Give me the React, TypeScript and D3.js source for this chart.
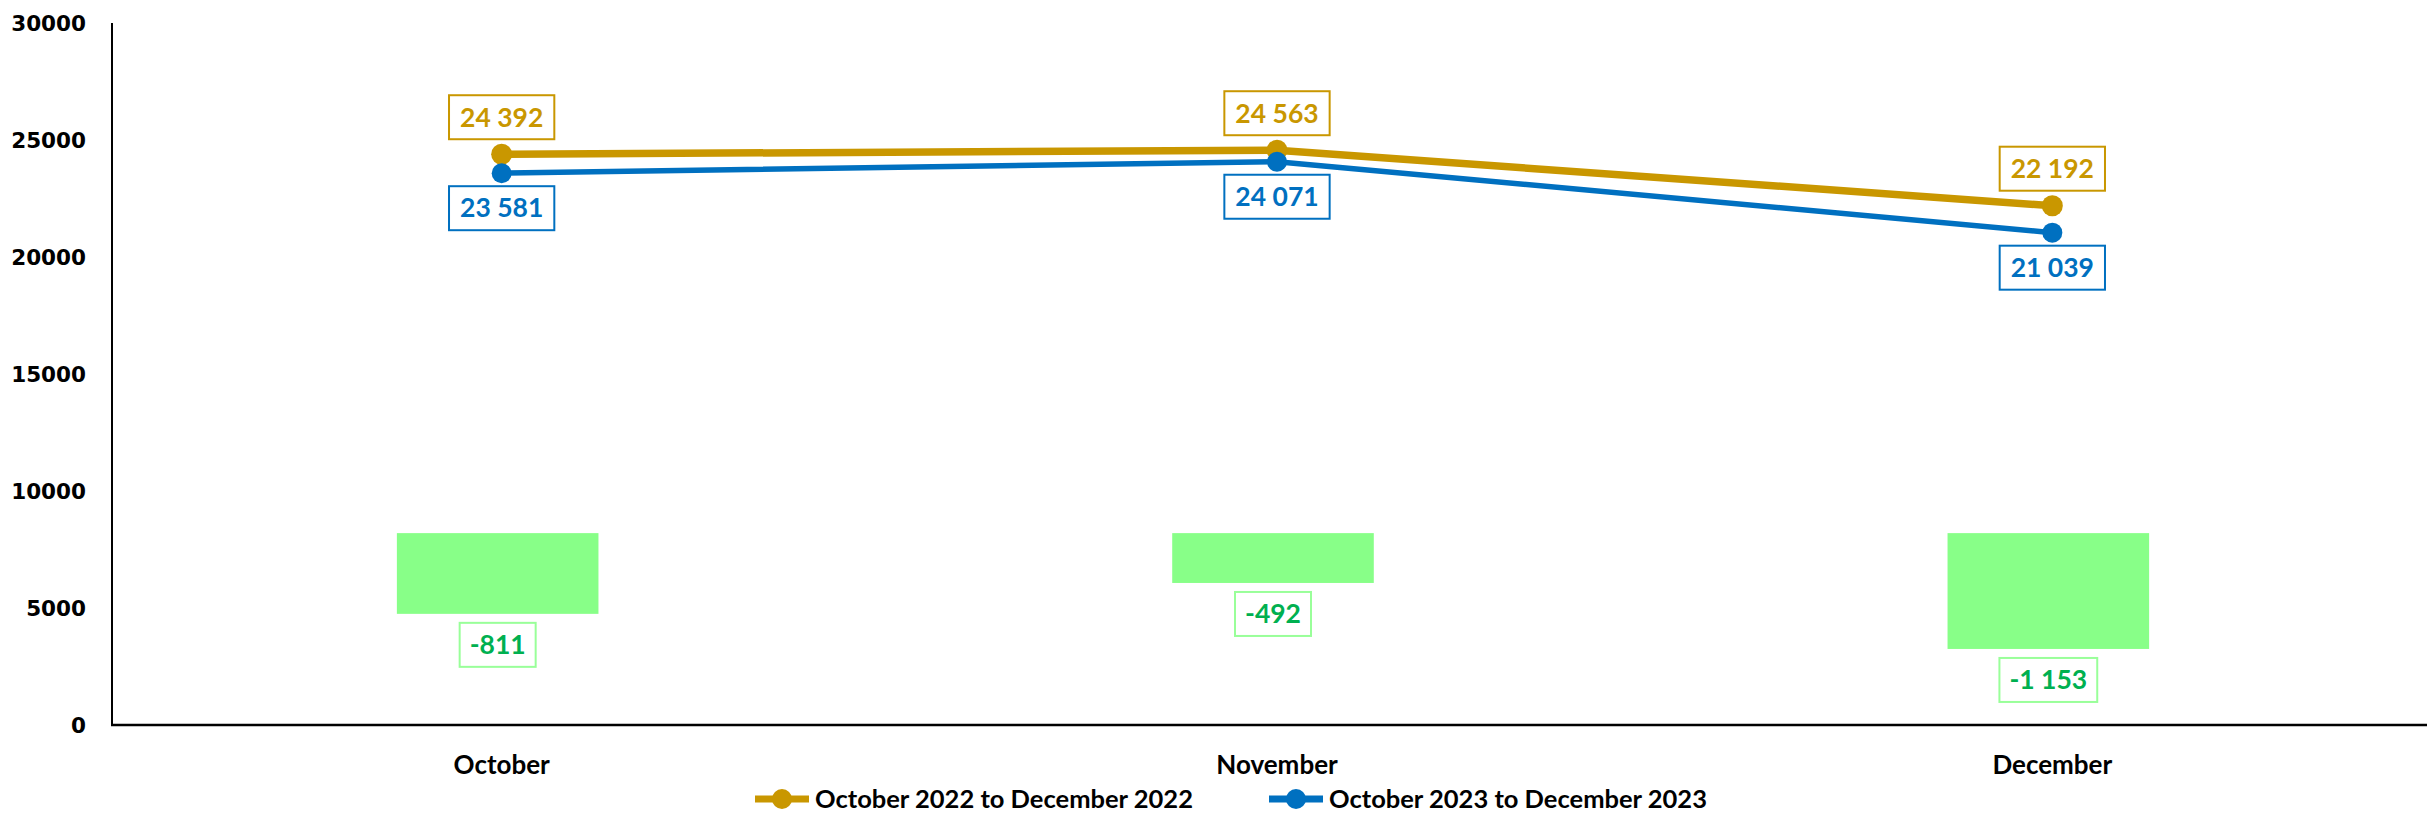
import React, { useEffect, useRef } from 'react';
import * as d3 from 'd3';

const categories = ['October', 'November', 'December'];
const series2022 = [24392, 24563, 22192];
const series2023 = [23581, 24071, 21039];
const diffs = [-811, -492, -1153];
const barTop = [8200, 8200, 8200];
const barBottom = [4750, 6070, 3250];
const yTicks = [0, 5000, 10000, 15000, 20000, 25000, 30000];
const legendLabels = ['October 2022 to December 2022', 'October 2023 to December 2023'];

const GOLD = '#C99700';
const BLUE = '#0070C0';
const BAR = '#88FF88';
const GREEN_TEXT = '#00B050';
const GREEN_BORDER = '#99FF99';

const W = 2427;
const H = 815;

const locale = d3.formatLocale({ decimal: '.', thousands: ' ', grouping: [3], currency: ['', ''], minus: '-' });
const fmt = locale.format(',');

const App: React.FC = () => {
  const svgRef = useRef<SVGSVGElement>(null);

  useEffect(() => {
    if (!svgRef.current) return;
    const svg = d3.select(svgRef.current);
    svg.selectAll('*').remove();

    const left = 112;
    const x = d3.scaleBand<string>().domain(categories).range([114, 2440]).padding(0);
    const y = d3.scaleLinear().domain([0, 30000]).range([725, 23]);
    const cx = (c: string) => (x(c) as number) + x.bandwidth() / 2;

    // y axis labels
    svg.append('g')
      .selectAll('text')
      .data(yTicks)
      .enter().append('text')
      .attr('x', 86)
      .attr('y', d => y(d))
      .attr('dy', '0.36em')
      .attr('text-anchor', 'end')
      .attr('font-family', 'DejaVu Sans')
      .attr('font-weight', 'bold')
      .attr('font-size', '21.5px')
      .attr('fill', '#000')
      .text(d => String(d));

    // bars (floating)
    const bw = x.bandwidth() * 0.26;
    svg.append('g')
      .selectAll('rect')
      .data(categories)
      .enter().append('rect')
      .attr('x', (d) => cx(d) - bw / 2 - 4)
      .attr('y', (_, i) => y(barTop[i]))
      .attr('width', bw)
      .attr('height', (_, i) => y(barBottom[i]) - y(barTop[i]))
      .attr('fill', BAR);

    // axes
    svg.append('line')
      .attr('x1', left).attr('x2', left)
      .attr('y1', y(30000)).attr('y2', y(0))
      .attr('stroke', '#000').attr('stroke-width', 2);
    svg.append('line')
      .attr('x1', left - 1).attr('x2', W)
      .attr('y1', y(0)).attr('y2', y(0))
      .attr('stroke', '#000').attr('stroke-width', 2.5);

    // category labels
    svg.append('g')
      .selectAll('text')
      .data(categories)
      .enter().append('text')
      .attr('x', d => cx(d))
      .attr('y', 765)
      .attr('dy', '0.36em')
      .attr('text-anchor', 'middle')
      .attr('font-family', 'Lato')
      .attr('font-weight', 'bold')
      .attr('font-size', '26px')
      .attr('fill', '#000')
      .text(d => d);

    const line = d3.line<number>()
      .x((_, i) => cx(categories[i]))
      .y(d => y(d));

    const drawSeries = (vals: number[], color: string, sw: number, r: number) => {
      svg.append('path')
        .datum(vals)
        .attr('d', line)
        .attr('fill', 'none')
        .attr('stroke', color)
        .attr('stroke-width', sw)
        .attr('stroke-linejoin', 'round');
      svg.append('g')
        .selectAll('circle')
        .data(vals)
        .enter().append('circle')
        .attr('cx', (_, i) => cx(categories[i]))
        .attr('cy', d => y(d))
        .attr('r', r)
        .attr('fill', color);
    };
    drawSeries(series2022, GOLD, 7.5, 10.5);
    drawSeries(series2023, BLUE, 5.5, 10);

    const boxLabel = (px: number, py: number, txt: string, color: string, border: string, padX: number, h: number) => {
      const g = svg.append('g');
      const rect = g.append('rect');
      const t = g.append('text')
        .attr('x', px)
        .attr('y', py)
        .attr('dy', '0.35em')
        .attr('text-anchor', 'middle')
        .attr('font-family', 'Lato')
        .attr('font-weight', 'bold')
        .attr('font-size', '26.5px')
        .attr('fill', color)
        .text(txt);
      const tw = (t.node() as SVGTextElement).getComputedTextLength();
      rect.attr('x', px - tw / 2 - padX)
        .attr('y', py - h / 2)
        .attr('width', tw + padX * 2)
        .attr('height', h)
        .attr('fill', '#fff')
        .attr('stroke', border)
        .attr('stroke-width', 2);
    };

    series2022.forEach((v, i) => boxLabel(cx(categories[i]), y(v) - 37, fmt(v), GOLD, GOLD, 11, 44));
    series2023.forEach((v, i) => boxLabel(cx(categories[i]), y(v) + 35, fmt(v), BLUE, BLUE, 11, 44));
    diffs.forEach((v, i) => boxLabel(cx(categories[i]) - 4, y(barBottom[i]) + 31, fmt(v), GREEN_TEXT, GREEN_BORDER, 10, 44));

    // legend
    const legendItems = [
      { label: legendLabels[0], color: GOLD, x: 755 },
      { label: legendLabels[1], color: BLUE, x: 1269 },
    ];
    const ly = 799;
    legendItems.forEach(it => {
      const g = svg.append('g');
      g.append('line')
        .attr('x1', it.x).attr('x2', it.x + 54)
        .attr('y1', ly).attr('y2', ly)
        .attr('stroke', it.color).attr('stroke-width', 7);
      g.append('circle')
        .attr('cx', it.x + 27).attr('cy', ly).attr('r', 10)
        .attr('fill', it.color);
      g.append('text')
        .attr('x', it.x + 60)
        .attr('y', ly)
        .attr('dy', '0.35em')
        .attr('font-family', 'Lato')
        .attr('font-weight', 'bold')
        .attr('font-size', '25.5px')
        .attr('fill', '#000')
        .text(it.label);
    });
  }, []);

  return (
    <svg
      ref={svgRef}
      width={W}
      height={H}
      viewBox={`0 0 ${W} ${H}`}
      style={{ position: 'absolute', left: 0, top: 0, background: '#fff' }}
    />
  );
};

export default App;
